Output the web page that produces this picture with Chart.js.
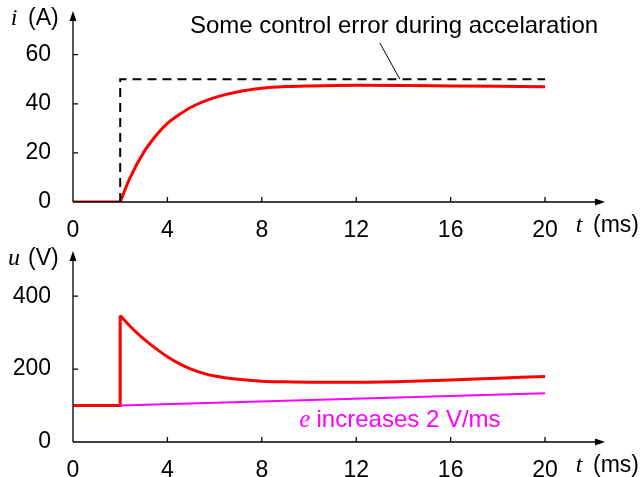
<!DOCTYPE html>
<html>
<head>
<meta charset="utf-8">
<script src="https://cdn.jsdelivr.net/npm/chart.js@4.4.0/dist/chart.umd.min.js"></script>
<style>
  html, body { margin: 0; padding: 0; background: #fff; }
  #graficoI { display: block; width: 640px; height: 240px; }
  #graficoU { display: block; width: 640px; height: 237px; }
</style>
</head>
<body>
<canvas id="graficoI" width="640" height="240"></canvas>
<canvas id="graficoU" width="640" height="237"></canvas>
<script>
// eixo de tempo (ms)
const tempoTicks = [0, 4, 8, 12, 16, 20];

// corrente i (A)
const tempoRepouso = [0, 2];
const correnteRepouso = [0, 0];
const tempoI = [2, 2.4, 3, 3.6, 4, 4.5, 5, 6, 7, 8, 9, 10, 12, 14, 16, 18, 20];
const corrente = [0, 9.5, 20.3, 28, 32, 35.6, 38.6, 42.5, 44.9, 46.3, 47, 47.3, 47.6, 47.5, 47.3, 47.1, 46.9];
const tempoRef = [2, 2, 20];
const referencia = [0, 50, 50];
const correnteTicks = [0, 20, 40, 60];

// tensao u (V)
const tempoDegrau = [0, 2, 2];
const tensaoDegrau = [100, 100, 347];
const tempoU = [2, 2.4, 2.8, 3.2, 3.6, 4, 4.5, 5, 5.5, 6, 7, 8, 9, 10, 12, 14, 16, 18, 20];
const tensao = [347, 319, 294, 272, 252, 234, 215, 200, 189, 181, 172, 167, 165, 164, 164, 166, 170, 175, 180];
const tempoE = [2, 20];
const fem = [100, 134];
const tensaoTicks = [0, 200, 400];

const FONTE = "'Liberation Sans', Arial, Helvetica, sans-serif";
const SERIFA = "'Liberation Serif', 'DejaVu Serif', serif";
const TAM = 23;

function pontos(xs, ys) {
    return xs.map((x, i) => ({ x: x, y: ys[i] }));
}

function desenharSeta(ctx, x1, y1, x2, y2) {
    const ang = Math.atan2(y2 - y1, x2 - x1);
    const c = Math.cos(ang), s = Math.sin(ang);
    ctx.beginPath();
    ctx.moveTo(x1, y1);
    ctx.lineTo(x2 - 6 * c, y2 - 6 * s);
    ctx.stroke();
    ctx.beginPath();
    ctx.moveTo(x2, y2);
    ctx.lineTo(x2 - 10 * c + 3.5 * s, y2 - 10 * s - 3.5 * c);
    ctx.lineTo(x2 - 10 * c - 3.5 * s, y2 - 10 * s + 3.5 * c);
    ctx.closePath();
    ctx.fill();
}

// desenha eixos com setas, marcas internas e rotulos dos eixos
function eixosPlugin(rotuloY, simboloY) {
    return {
        id: "eixosPlugin",
        afterDraw(chart) {
            const { ctx, chartArea, scales } = chart;
            const { left, right, top, bottom } = chartArea;
            ctx.save();
            ctx.strokeStyle = "#000";
            ctx.fillStyle = "#000";
            ctx.lineWidth = 1.3;
            desenharSeta(ctx, left, bottom, right, bottom);
            desenharSeta(ctx, left, bottom, left, top);

            ctx.beginPath();
            scales.x.ticks.forEach(t => {
                if (t.value === 0) return;
                const px = scales.x.getPixelForValue(t.value);
                ctx.moveTo(px, bottom);
                ctx.lineTo(px, bottom - 5);
            });
            scales.y.ticks.forEach(t => {
                if (t.value === 0) return;
                const py = scales.y.getPixelForValue(t.value);
                ctx.moveTo(left, py);
                ctx.lineTo(left + 5, py);
            });
            ctx.stroke();

            ctx.textBaseline = "alphabetic";
            // rotulo eixo x
            ctx.textAlign = "center";
            ctx.font = "italic 24px " + SERIFA;
            ctx.fillText("t", right - 26, bottom + 30);
            ctx.textAlign = "left";
            ctx.font = TAM + "px " + FONTE;
            ctx.fillText("(ms)", right - 12, bottom + 30);
            // rotulo eixo y
            ctx.textAlign = "center";
            ctx.font = "italic 24px " + SERIFA;
            ctx.fillText(simboloY, 14, top + 14);
            ctx.textAlign = "left";
            ctx.font = TAM + "px " + FONTE;
            ctx.fillText(rotuloY, 28, top + 14);
            ctx.restore();
        }
    };
}

function opcoes(yMax, yTicks, xMax, alturaX) {
    return {
        responsive: false,
        animation: false,
        layout: { padding: { left: 0, right: 35, top: 11, bottom: 0 } },
        plugins: { legend: { display: false }, tooltip: { enabled: false } },
        elements: { point: { radius: 0 } },
        scales: {
            x: {
                type: "linear",
                min: 0,
                max: xMax,
                grid: { display: false },
                border: { display: false },
                afterBuildTicks(scale) { scale.ticks = tempoTicks.map(v => ({ value: v })); },
                afterFit(scale) {
                    scale.height = alturaX;
                    scale.paddingLeft = 0;
                    scale.paddingRight = 0;
                },
                ticks: { color: "#000", padding: 7, font: { family: FONTE, size: TAM }, maxRotation: 0 }
            },
            y: {
                type: "linear",
                min: 0,
                max: yMax,
                grid: { display: false },
                border: { display: false },
                afterBuildTicks(scale) { scale.ticks = yTicks.map(v => ({ value: v })); },
                afterFit(scale) {
                    scale.width = 73;
                    scale.paddingTop = 0;
                    scale.paddingBottom = 0;
                },
                ticks: { color: "#000", padding: 14, font: { family: FONTE, size: TAM } }
            }
        }
    };
}

const xMax = 22.54;

// grafico da corrente
const textoErro = { x: 13.6, y: 71.7, texto: "Some control error during accelaration" };
const setaErro = { x1: 13.0, y1: 64.8, x2: 13.85, y2: 50 };

const anotacaoErro = {
    id: "anotacaoErro",
    afterDraw(chart) {
        const { ctx, scales } = chart;
        ctx.save();
        ctx.font = "24px " + FONTE;
        ctx.fillStyle = "#000";
        ctx.textAlign = "center";
        ctx.textBaseline = "middle";
        ctx.fillText(textoErro.texto, scales.x.getPixelForValue(textoErro.x), scales.y.getPixelForValue(textoErro.y));
        ctx.strokeStyle = "#000";
        ctx.lineWidth = 1;
        ctx.beginPath();
        ctx.moveTo(scales.x.getPixelForValue(setaErro.x1), scales.y.getPixelForValue(setaErro.y1));
        ctx.lineTo(scales.x.getPixelForValue(setaErro.x2), scales.y.getPixelForValue(setaErro.y2));
        ctx.stroke();
        ctx.restore();
    }
};

new Chart(document.getElementById("graficoI"), {
    type: "line",
    data: {
        datasets: [
            {
                data: pontos(tempoRef, referencia),
                borderColor: "#000",
                borderWidth: 2,
                borderDash: [9, 6],
                tension: 0
            },
            {
                data: pontos(tempoRepouso, correnteRepouso),
                borderColor: "#ff0000",
                borderWidth: 3,
                tension: 0
            },
            {
                data: pontos(tempoI, corrente),
                borderColor: "#ff0000",
                borderWidth: 3,
                cubicInterpolationMode: "monotone"
            }
        ]
    },
    options: opcoes(77.8, correnteTicks, xMax, 38),
    plugins: [eixosPlugin("(A)", "i"), anotacaoErro]
});

// grafico da tensao
const textoFem = { x: 13.85, y: 60, texto: "increases 2 V/ms" };

const anotacaoFem = {
    id: "anotacaoFem",
    afterDraw(chart) {
        const { ctx, scales } = chart;
        ctx.save();
        ctx.fillStyle = "#ff00ff";
        ctx.textBaseline = "middle";
        ctx.textAlign = "left";
        const cx = scales.x.getPixelForValue(textoFem.x);
        const cy = scales.y.getPixelForValue(textoFem.y);
        ctx.font = "24px " + FONTE;
        const larguraTexto = ctx.measureText(textoFem.texto).width;
        ctx.font = "italic 25px " + SERIFA;
        const larguraE = ctx.measureText("e ").width;
        const inicio = cx - (larguraTexto + larguraE) / 2;
        ctx.fillText("e", inicio, cy);
        ctx.font = "24px " + FONTE;
        ctx.fillText(textoFem.texto, inicio + larguraE, cy);
        ctx.restore();
    }
};

new Chart(document.getElementById("graficoU"), {
    type: "line",
    data: {
        datasets: [
            {
                data: pontos(tempoE, fem),
                borderColor: "#ff00ff",
                borderWidth: 2,
                tension: 0
            },
            {
                data: pontos(tempoDegrau, tensaoDegrau),
                borderColor: "#ff0000",
                borderWidth: 3,
                tension: 0
            },
            {
                data: pontos(tempoU, tensao),
                borderColor: "#ff0000",
                borderWidth: 3,
                cubicInterpolationMode: "monotone"
            }
        ]
    },
    options: opcoes(524, tensaoTicks, xMax, 35),
    plugins: [eixosPlugin("(V)", "u"), anotacaoFem]
});
</script>
</body>
</html>
